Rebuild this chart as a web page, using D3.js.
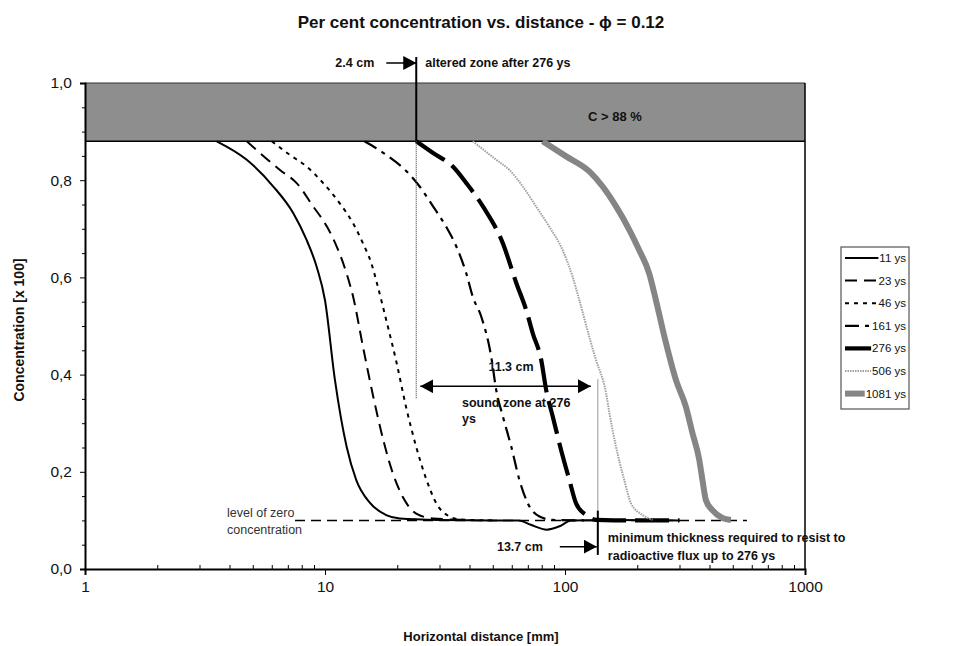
<!DOCTYPE html>
<html>
<head>
<meta charset="utf-8">
<script src="https://cdn.jsdelivr.net/npm/d3@7"></script>
<style>
  html, body { margin: 0; padding: 0; background: #fff; }
  svg { display: block; font-family: Arial, "Liberation Sans", sans-serif; }
</style>
</head>
<body>
<svg id="chart" width="975" height="646"></svg>
<script>
// Concentration profiles (C, fraction of 100) against horizontal distance (mm), one per age
const seriesNames = ["11 ys", "23 ys", "46 ys", "161 ys", "276 ys", "506 ys", "1081 ys"];

const dist11 = [3.54, 4.72, 6.09, 7.38, 8.38, 9.23, 10.0, 11.0, 12.3, 13.5, 15.4, 18.0, 20.5, 30, 50, 64, 72, 84, 95, 106, 150, 300];
const conc11 = [0.88, 0.842, 0.787, 0.732, 0.677, 0.622, 0.553, 0.389, 0.252, 0.183, 0.136, 0.111, 0.104, 0.101, 0.100, 0.100, 0.091, 0.081, 0.088, 0.100, 0.101, 0.100];

const dist23 = [4.72, 6.49, 7.62, 8.93, 10.2, 11.2, 12.3, 13.1, 14.4, 15.9, 17.5, 19.2, 21.1, 24.0, 28.2, 40];
const conc23 = [0.88, 0.821, 0.794, 0.746, 0.704, 0.663, 0.608, 0.560, 0.457, 0.354, 0.265, 0.196, 0.148, 0.114, 0.104, 0.101];

const dist46 = [6.0, 7.14, 8.39, 9.83, 11.5, 13.1, 14.4, 15.6, 16.6, 18.0, 19.9, 21.8, 24.0, 26.5, 29.1, 33.0, 36.4, 50];
const conc46 = [0.88, 0.852, 0.828, 0.794, 0.753, 0.711, 0.670, 0.629, 0.581, 0.512, 0.423, 0.332, 0.251, 0.183, 0.135, 0.108, 0.102, 0.100];

const dist161 = [14.6, 18.0, 21.9, 24.8, 28.2, 32.0, 35.3, 38.8, 41.3, 44.8, 49.3, 51.7, 55.1, 59.7, 64.6, 70.0, 78.3, 88.9, 120];
const conc161 = [0.88, 0.852, 0.818, 0.787, 0.746, 0.704, 0.663, 0.608, 0.560, 0.519, 0.436, 0.368, 0.314, 0.252, 0.183, 0.135, 0.108, 0.101, 0.100];

const dist276 = [24, 28.2, 34.1, 38.8, 45.5, 55.1, 62.7, 68.9, 73.4, 79.6, 83.5, 88.9, 96.3, 104.3, 111.2, 122.4, 134.7, 160, 300];
const conc276 = [0.88, 0.856, 0.828, 0.794, 0.746, 0.670, 0.588, 0.533, 0.485, 0.430, 0.368, 0.314, 0.245, 0.183, 0.135, 0.111, 0.101, 0.100, 0.100];

const dist506 = [41.3, 51.7, 58.7, 66.7, 75.8, 86.1, 97.8, 107.6, 114.8, 126.2, 134.7, 148.3, 153.1, 163.2, 176.6, 188.4, 210.5, 231.5];
const conc506 = [0.88, 0.842, 0.821, 0.787, 0.746, 0.704, 0.656, 0.601, 0.553, 0.478, 0.430, 0.362, 0.321, 0.251, 0.183, 0.135, 0.111, 0.101];

const dist1081 = [80.7, 101.1, 126.3, 143.5, 163.2, 185.3, 203.9, 224.4, 239.3, 261.6, 289.8, 318.8, 339.6, 362.2, 373.9, 386.2, 411.2, 452.9, 490.9];
const conc1081 = [0.88, 0.849, 0.818, 0.787, 0.746, 0.698, 0.656, 0.608, 0.553, 0.471, 0.389, 0.334, 0.280, 0.226, 0.183, 0.142, 0.121, 0.105, 0.101];

// Reference levels and annotated distances (mm)
const saturation = 0.88;          // C > 88 % band
const zeroLevel = 0.10;           // level of zero concentration
const zeroLevelSpan = [7.5, 573];
const alteredDepth = 24;          // 2.4 cm
const minThickness = 137;         // 13.7 cm

const xTickValues = [1, 10, 100, 1000];
const yTickValues = [0, 0.2, 0.4, 0.6, 0.8, 1.0];

const svg = d3.select("#chart");
const x = d3.scaleLog().domain([1, 1000]).range([85, 805]);
const y = d3.scaleLinear().domain([0, 1]).range([569, 83]);

// Line styles per series
const styles = [
  { stroke: "#000", width: 2, dash: null },
  { stroke: "#000", width: 2, dash: "12,7" },
  { stroke: "#000", width: 2, dash: "4,5" },
  { stroke: "#000", width: 2.2, dash: "14,6,4,6" },
  { stroke: "#000", width: 4.2, dash: "34,9" },
  { stroke: "#a0a0a0", width: 2, dash: "1.5,1" },
  { stroke: "#858585", width: 6, dash: null }
];

const series = [
  [dist11, conc11], [dist23, conc23], [dist46, conc46], [dist161, conc161],
  [dist276, conc276], [dist506, conc506], [dist1081, conc1081]
].map(([d, c], i) => ({ name: seriesNames[i], pts: d.map((v, j) => [v, c[j]]), style: styles[i] }));

// Saturated band
svg.append("rect")
  .attr("x", x(1)).attr("y", y(1))
  .attr("width", x(1000) - x(1)).attr("height", y(saturation) - y(1))
  .attr("fill", "#8e8e8e");
svg.append("line").attr("x1", x(1)).attr("x2", x(1000)).attr("y1", y(1)).attr("y2", y(1))
  .attr("stroke", "#333").attr("stroke-width", 1);
svg.append("line").attr("x1", x(1)).attr("x2", x(1000)).attr("y1", y(saturation)).attr("y2", y(saturation))
  .attr("stroke", "#000").attr("stroke-width", 1.5);
svg.append("text").attr("x", 615).attr("y", y(1) + 38)
  .attr("text-anchor", "middle").attr("font-size", 13).attr("font-weight", "bold").attr("fill", "#111")
  .text("C > 88 %");

// Level of zero concentration
svg.append("line")
  .attr("x1", x(zeroLevelSpan[0])).attr("x2", x(zeroLevelSpan[1]))
  .attr("y1", y(zeroLevel)).attr("y2", y(zeroLevel))
  .attr("stroke", "#000").attr("stroke-width", 1.5).attr("stroke-dasharray", "10,6");

// Curves
const line = d3.line().x(d => x(d[0])).y(d => y(d[1])).curve(d3.curveMonotoneX);
series.forEach(s => {
  svg.append("path").datum(s.pts)
    .attr("d", line)
    .attr("fill", "none")
    .attr("stroke", s.style.stroke)
    .attr("stroke-width", s.style.width)
    .attr("stroke-dasharray", s.style.dash)
    .attr("stroke-linejoin", "round");
});

// Axes
const xAxis = svg.append("g").attr("transform", `translate(0,${y(0)})`)
  .call(d3.axisBottom(x).tickValues(xTickValues).tickFormat(d3.format("d")).tickSize(6).tickPadding(6));
const minorX = [];
[1, 10, 100].forEach(dec => { for (let k = 2; k <= 9; k++) minorX.push(dec * k); });
svg.append("g").attr("transform", `translate(0,${y(0)})`)
  .call(d3.axisBottom(x).tickValues(minorX).tickFormat("").tickSize(-4))
  .call(g => g.select(".domain").remove());
const yAxis = svg.append("g").attr("transform", `translate(${x(1)},0)`)
  .call(d3.axisLeft(y).tickValues(yTickValues).tickFormat(d => d3.format(".1f")(d).replace(".", ",")).tickSize(5).tickPadding(8));
const minorY = d3.range(1, 20).map(k => k * 0.05).filter((v, i) => (i + 1) % 4 !== 0);
svg.append("g").attr("transform", `translate(${x(1)},0)`)
  .call(d3.axisLeft(y).tickValues(minorY).tickFormat("").tickSize(3))
  .call(g => g.select(".domain").remove());
[xAxis, yAxis].forEach(g => {
  g.select(".domain").attr("stroke", "#000").attr("stroke-width", 2);
  g.selectAll(".tick line").attr("stroke", "#000");
  g.selectAll(".tick text").attr("font-size", 15.5).attr("fill", "#111").attr("font-family", "Arial, 'Liberation Sans', sans-serif");
});
svg.append("line").attr("x1", x(1000)).attr("x2", x(1000)).attr("y1", y(1)).attr("y2", y(0))
  .attr("stroke", "#000").attr("stroke-width", 1.5);

// Titles
svg.append("text").attr("x", 481).attr("y", 28).attr("text-anchor", "middle")
  .attr("font-size", 17).attr("font-weight", "bold").attr("fill", "#111")
  .text("Per cent concentration vs. distance - \u03D5 = 0.12");
svg.append("text").attr("x", 481).attr("y", 641).attr("text-anchor", "middle")
  .attr("font-size", 13).attr("font-weight", "bold").attr("fill", "#111")
  .text("Horizontal distance [mm]");
svg.append("text").attr("transform", "translate(24,330) rotate(-90)").attr("text-anchor", "middle")
  .attr("font-size", 14).attr("font-weight", "bold").attr("fill", "#111")
  .text("Concentration [x 100]");

// Annotations
const defs = svg.append("defs");
defs.append("marker").attr("id", "head").attr("viewBox", "0 0 13 14")
  .attr("refX", 13).attr("refY", 7).attr("markerWidth", 13).attr("markerHeight", 14)
  .attr("markerUnits", "userSpaceOnUse").attr("orient", "auto-start-reverse")
  .append("path").attr("d", "M0,0 L13,7 L0,14 Z").attr("fill", "#000");

const ann = svg.append("g").attr("font-weight", "bold").attr("font-size", 12.5).attr("fill", "#111");

// 2.4 cm altered zone
const xa = x(alteredDepth);
svg.append("line").attr("x1", xa - 30).attr("x2", xa).attr("y1", 63).attr("y2", 63)
  .attr("stroke", "#000").attr("stroke-width", 1.5).attr("marker-end", "url(#head)");
svg.append("line").attr("x1", xa).attr("x2", xa).attr("y1", 57).attr("y2", y(saturation))
  .attr("stroke", "#000").attr("stroke-width", 2);
svg.append("line").attr("x1", xa).attr("x2", xa).attr("y1", y(saturation)).attr("y2", y(0.35))
  .attr("stroke", "#555").attr("stroke-width", 1.2).attr("stroke-dasharray", "1,1");
ann.append("text").attr("x", xa - 42).attr("y", 67).attr("text-anchor", "end").text("2.4 cm");
ann.append("text").attr("x", xa + 9).attr("y", 67).text("altered zone after 276 ys");

// 11.3 cm sound zone
const xm = x(minThickness);
svg.append("line").attr("x1", xa + 4).attr("x2", xm - 7).attr("y1", y(0.376)).attr("y2", y(0.376))
  .attr("stroke", "#000").attr("stroke-width", 1.5)
  .attr("marker-start", "url(#head)").attr("marker-end", "url(#head)");
ann.append("text").attr("x", (xa + xm) / 2 + 4).attr("y", y(0.376) - 15).attr("text-anchor", "middle").text("11.3 cm");
ann.append("text").attr("x", 462).attr("y", y(0.376) + 21).text("sound zone at 276");
ann.append("text").attr("x", 462).attr("y", y(0.376) + 37).text("ys");

// 13.7 cm minimum thickness
svg.append("line").attr("x1", xm).attr("x2", xm).attr("y1", y(0.39)).attr("y2", y(zeroLevel))
  .attr("stroke", "#555").attr("stroke-width", 1.2).attr("stroke-dasharray", "1,1");
svg.append("line").attr("x1", xm).attr("x2", xm).attr("y1", y(0.12)).attr("y2", y(0.029))
  .attr("stroke", "#000").attr("stroke-width", 2);
svg.append("line").attr("x1", xm - 38).attr("x2", xm - 1).attr("y1", y(0.046)).attr("y2", y(0.046))
  .attr("stroke", "#000").attr("stroke-width", 1.5).attr("marker-end", "url(#head)");
ann.append("text").attr("x", xm - 55).attr("y", y(0.046) + 4).attr("text-anchor", "end").text("13.7 cm");
ann.append("text").attr("x", xm + 10).attr("y", y(0.046) - 5).text("minimum thickness required to resist to");
ann.append("text").attr("x", xm + 10).attr("y", y(0.046) + 13).text("radioactive flux up to 276 ys");

// Level label
const lvl = svg.append("g").attr("font-size", 12.5).attr("fill", "#333");
lvl.append("text").attr("x", 227).attr("y", y(zeroLevel) - 3).text("level of zero");
lvl.append("text").attr("x", 227).attr("y", y(zeroLevel) + 14).text("concentration");

// Legend
const lg = svg.append("g");
lg.append("rect").attr("x", 841).attr("y", 247).attr("width", 68).attr("height", 162)
  .attr("fill", "#fff").attr("stroke", "#555").attr("stroke-width", 1.2);
series.forEach((s, i) => {
  const ly = 258 + i * 22.6;
  const label = lg.append("text").attr("x", 906).attr("y", ly + 4).attr("text-anchor", "end")
    .attr("font-size", 11.5).attr("fill", "#111").text(s.name);
  const textStart = 906 - label.node().getComputedTextLength();
  lg.insert("line", "text").attr("x1", 845).attr("x2", Math.min(880, textStart - 1)).attr("y1", ly).attr("y2", ly)
    .attr("stroke", s.style.stroke)
    .attr("stroke-width", s.style.width)
    .attr("stroke-dasharray", s.style.dash);
});
</script>
</body>
</html>
